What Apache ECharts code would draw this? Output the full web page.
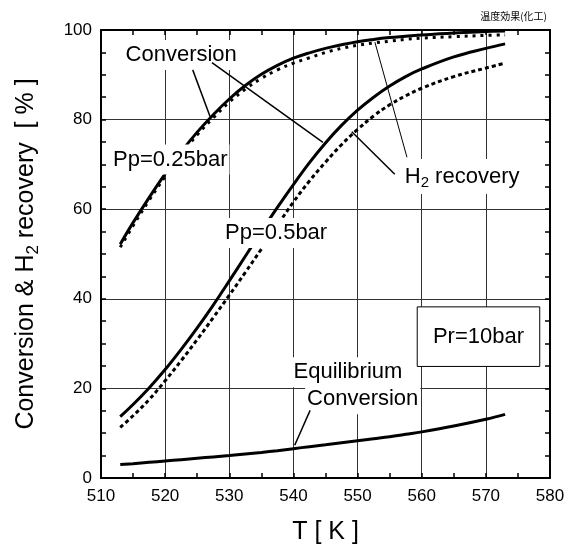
<!DOCTYPE html>
<html>
<head>
<meta charset="utf-8">
<script src="https://cdn.jsdelivr.net/npm/echarts@6/dist/echarts.min.js"></script>
<style>
  html, body { margin: 0; padding: 0; background: #fff; }
  #chart { width: 576px; height: 550px; }
</style>
</head>
<body>
<div id="chart"></div>
<script>
// Reactor temperature [K] at which every curve is sampled
const temps = [513, 515, 517.5, 520, 522.5, 525, 527.5, 530, 532.5, 535, 537.5, 540,
               542.5, 545, 547.5, 550, 552.5, 555, 557.5, 560, 565, 570, 573];

// Pp = 0.25 bar
const conv025  = [52.2, 57.0, 62.6, 67.9, 72.8, 77.2, 81.1, 84.6, 87.6, 90.1, 92.1, 93.7,
                  94.9, 95.9, 96.7, 97.4, 97.9, 98.3, 98.6, 98.9, 99.35, 99.65, 99.8];
const h2rec025 = [51.5, 56.3, 62.0, 67.3, 72.2, 76.6, 80.4, 83.9, 86.8, 89.2, 91.1, 92.6,
                  93.8, 95.0, 95.9, 96.6, 97.1, 97.5, 97.9, 98.2, 98.5, 98.8, 98.9];

// Pp = 0.5 bar
const conv05   = [13.7, 16.4, 20.1, 24.2, 28.7, 33.5, 38.6, 44.0, 49.5, 55.0, 60.4, 65.5,
                  70.4, 74.8, 78.7, 82.1, 85.0, 87.5, 89.6, 91.3, 94.0, 95.9, 96.9];
const h2rec05  = [11.3, 13.9, 17.5, 21.7, 26.2, 30.9, 35.8, 40.8, 45.9, 51.1, 56.4, 61.6,
                  66.3, 70.5, 74.4, 77.8, 80.8, 83.3, 85.3, 87.0, 89.6, 91.5, 92.6];

// Equilibrium conversion
const eqConv   = [3.0, 3.2, 3.5, 3.8, 4.1, 4.4, 4.7, 5.0, 5.35, 5.7, 6.1, 6.55,
                  7.0, 7.4, 7.85, 8.3, 8.75, 9.2, 9.75, 10.3, 11.6, 13.1, 14.2];

// Axis ranges and steps
const xRange = [510, 580], xStep = 10;
const yRange = [0, 100], yStep = 20;

const FONT = '"Liberation Sans", Arial, sans-serif';
const pairs = vals => temps.map((t, i) => [t, vals[i]]);

const chart = echarts.init(document.getElementById('chart'), null, { renderer: 'canvas' });

const axisLineStyle = { color: '#000', width: 2 };
const tickStyle = { color: '#000', width: 1.5 };

function xAxisDef(pos, labels) {
  return {
    type: 'value', position: pos, min: xRange[0], max: xRange[1], interval: xStep,
    axisLine: { show: true, onZero: false, lineStyle: axisLineStyle },
    axisTick: { show: true, inside: true, length: 5, lineStyle: tickStyle },
    minorTick: { show: true, splitNumber: 2, length: 5, lineStyle: tickStyle },
    axisLabel: { show: labels, color: '#000', fontFamily: FONT, fontSize: 17, margin: 10 },
    splitLine: { show: labels, lineStyle: { color: '#333', width: 1 } }
  };
}
function yAxisDef(pos, labels) {
  return {
    type: 'value', position: pos, min: yRange[0], max: yRange[1], interval: yStep,
    axisLine: { show: true, onZero: false, lineStyle: axisLineStyle },
    axisTick: { show: true, inside: true, length: 5, lineStyle: tickStyle },
    minorTick: { show: true, splitNumber: 4, length: 5, lineStyle: tickStyle },
    axisLabel: { show: labels, color: '#000', fontFamily: FONT, fontSize: 17, margin: 9 },
    splitLine: { show: labels, lineStyle: { color: '#333', width: 1 } }
  };
}

const xBottom = xAxisDef('bottom', true);
xBottom.name = 'T [ K ]';
xBottom.nameLocation = 'middle';
xBottom.nameGap = 42;
xBottom.nameTextStyle = { color: '#000', fontFamily: FONT, fontSize: 25 };

const yLeft = yAxisDef('left', true);
yLeft.name = '{a|Conversion & H}{s|2}{a| recovery  [ % ]}';
yLeft.nameLocation = 'middle';
yLeft.nameRotate = 90;
yLeft.nameGap = 59;
yLeft.nameTextStyle = {
  rich: {
    a: { color: '#000', fontFamily: FONT, fontSize: 25 },
    s: { color: '#000', fontFamily: FONT, fontSize: 17, verticalAlign: 'bottom', padding: [14, 0, 0, 0] }
  }
};

function line(name, vals, dash) {
  return {
    name, type: 'line', data: pairs(vals), smooth: 0.4, symbol: 'none',
    xAxisIndex: 0, yAxisIndex: 0, z: 3,
    lineStyle: { color: '#000', width: 3, type: dash || 'solid', cap: 'butt' }
  };
}

chart.setOption({
  animation: false,
  backgroundColor: '#fff',
  grid: { left: 101, right: 26, top: 30, bottom: 70 },
  xAxis: [xBottom, xAxisDef('top', false)],
  yAxis: [yLeft, yAxisDef('right', false)],
  series: [
    line('conv025', conv025),
    line('h2rec025', h2rec025, [3, 5]),
    line('conv05', conv05),
    line('h2rec05', h2rec05, [4, 3]),
    line('eqConv', eqConv)
  ]
});

// Annotations placed in data space, converted to pixels through the axes
const px = p => chart.convertToPixel({ xAxisIndex: 0, yAxisIndex: 0 }, p);

const labels = [
  { text: 'Conversion',  at: [522.5, 94.4] },
  { text: 'Pp=0.25bar',  at: [520.8, 71.1] },
  { text: 'Pp=0.5bar',   at: [537.3, 54.7] },
  { text: 'Equilibrium', at: [548.5, 23.6] },
  { text: 'Conversion',  at: [550.8, 17.6] }
];

const leaders = [
  { from: [524.3, 91.1], to: [527.0, 80.7], w: 1.5 },
  { from: [527.3, 92.7], to: [544.6, 74.9], w: 1.5 },
  { from: [555.8, 67.8], to: [549.1, 77.3], w: 1.5 },
  { from: [557.7, 71.6], to: [552.7, 97.3], w: 1 },
  { from: [542.6, 15.1], to: [540.2, 7.3],  w: 1.5 }
];

const g = [];
labels.forEach(l => {
  const [x, y] = px(l.at);
  g.push({
    type: 'text', x, y, z: 100,
    style: {
      text: l.text, font: '22px ' + FONT, fill: '#000',
      align: 'center', verticalAlign: 'middle',
      backgroundColor: '#fff', padding: [4, 2]
    }
  });
});

// H2 recovery label with subscript
{
  const [x, y] = px([566.3, 67.3]);
  g.push({
    type: 'text', x, y, z: 100,
    style: {
      text: '{a|H}{s|2}{a| recovery}',
      align: 'center', verticalAlign: 'middle',
      backgroundColor: '#fff', padding: [4, 2],
      rich: {
        a: { font: '22px ' + FONT, fill: '#000' },
        s: { font: '15px ' + FONT, fill: '#000', padding: [12, 0, 0, 0] }
      }
    }
  });
}

leaders.forEach(l => {
  const [x1, y1] = px(l.from);
  const [x2, y2] = px(l.to);
  g.push({ type: 'line', z: 101, shape: { x1, y1, x2, y2 }, style: { stroke: '#000', lineWidth: l.w } });
});

// Operating-pressure box
{
  const [x1, y1] = px([559.3, 38.2]);
  const [x2, y2] = px([578.4, 24.9]);
  g.push({
    type: 'rect', z: 100,
    shape: { x: x1, y: y1, width: x2 - x1, height: y2 - y1 },
    style: { fill: '#fff', stroke: '#000', lineWidth: 1 }
  });
  g.push({
    type: 'text', x: (x1 + x2) / 2, y: (y1 + y2) / 2, z: 101,
    style: { text: 'Pr=10bar', font: '22px ' + FONT, fill: '#000', align: 'center', verticalAlign: 'middle' }
  });
}

// Corner caption
g.push({
  type: 'text', x: 547, y: 16, z: 100,
  style: { text: '温度効果(化工)', font: '10px "Noto Sans CJK JP"', fill: '#000', align: 'right', verticalAlign: 'middle' }
});

chart.setOption({ graphic: g });
</script>
</body>
</html>
